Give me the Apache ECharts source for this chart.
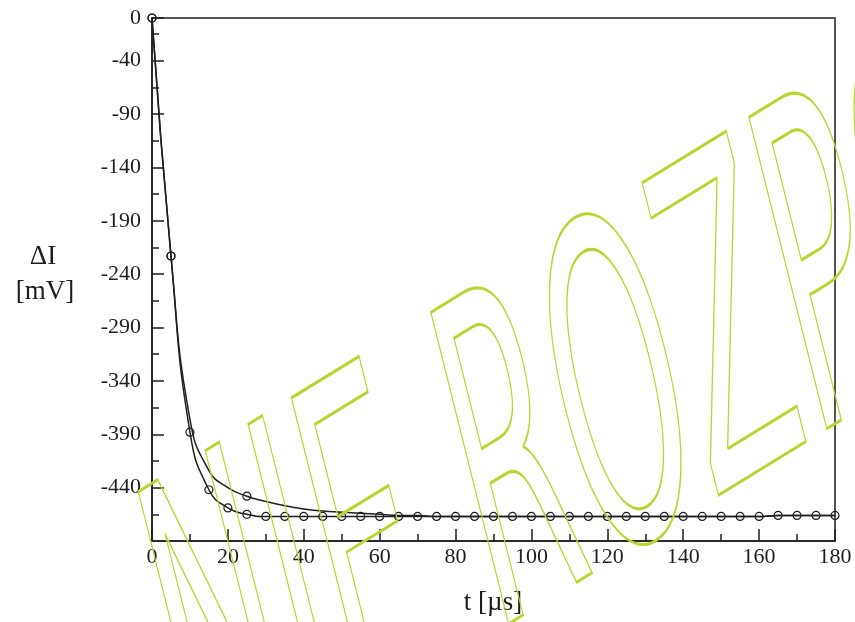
<!DOCTYPE html>
<html lang="en">
<head>
    <meta charset="UTF-8">
    <title>Delta I</title>
    <script type="text/javascript" src="https://cdn.jsdelivr.net/npm/echarts@6.0.0/dist/echarts.min.js"></script>
</head>
<body>
<div id="chart" class="chart"></div>
</body>
<style>
    * {
        padding: 0;
        margin: 0;
    }

    html, body {
        width: 100%;
        height: 100%;
        background-color: white;
    }

    .chart {
        width: 855px;
        height: 622px;
    }
</style>
<script>

    // time in us, one sample every 5 us
    let times = [0, 5, 10, 15, 20, 25, 30, 35, 40, 45, 50, 55, 60, 65, 70, 75, 80, 85, 90,
        95, 100, 105, 110, 115, 120, 125, 130, 135, 140, 145, 150, 155, 160, 165, 170, 175, 180]
    // fast curve, circle on every sample
    let fastCurve = [0, -223, -388, -442, -459, -465, -467, -467, -467, -467, -467, -467, -467,
        -467, -467, -467, -467, -467, -467, -467, -467, -467, -467, -467, -467, -467, -467,
        -467, -467, -467, -467, -467, -467, -466, -466, -466, -466]
    // slow curve, circles only at a few samples
    let slowCurve = [0, -223, -376, -424, -440, -448, -453, -457, -460, -462, -463, -464, -465,
        -466, -466, -467, -467, -467, -467, -467, -467, -467, -467, -467, -467, -467, -467,
        -467, -467, -467, -467, -467, -467, -466, -466, -466, -466]
    let slowMarks = [0, 5, 25]

    let yMajor = [0, -40, -90, -140, -190, -240, -290, -340, -390, -440]
    let yMinor = [-15, -65, -115, -165, -215, -265, -315, -365, -415, -465]

    const ink = '#1e1e1e'
    const serif = '"Liberation Serif", "DejaVu Serif", serif'

    const pairs = function (ys, marks) {
        return times.map((t, i) => {
            let item = {value: [t, ys[i]]}
            if (marks && marks.indexOf(t) < 0) item.symbol = 'none'
            return item
        })
    }

    const lineSeries = function (name, data) {
        return {
            name: name,
            type: 'line',
            data: data,
            smooth: 0.5,
            symbol: 'circle',
            symbolSize: 8,
            lineStyle: {color: ink, width: 1.5},
            itemStyle: {color: 'rgba(0,0,0,0)', borderColor: ink, borderWidth: 1.2},
            emphasis: {disabled: true}
        }
    }

    let chart = echarts.init(document.getElementById('chart'))
    chart.setOption({
        animation: false,
        grid: {
            left: 152, right: 20, top: 18, bottom: 81,
            show: true, borderColor: ink, borderWidth: 1.5
        },
        xAxis: {
            type: 'value',
            min: 0, max: 180, interval: 20,
            axisLine: {show: true, onZero: false, lineStyle: {color: ink, width: 1.5}},
            axisTick: {inside: true, length: 12, lineStyle: {color: ink, width: 1.5}},
            minorTick: {show: true, splitNumber: 2, length: 7, lineStyle: {color: ink, width: 1.5}},
            axisLabel: {color: ink, fontFamily: serif, fontSize: 22, margin: 5},
            splitLine: {show: false}
        },
        yAxis: [{
            type: 'value',
            min: -490, max: 0,
            axisLine: {show: true, onZero: false, lineStyle: {color: ink, width: 1.5}},
            axisTick: {inside: true, length: 12, customValues: yMajor, lineStyle: {color: ink, width: 1.5}},
            axisLabel: {customValues: yMajor, color: ink, fontFamily: serif, fontSize: 22, margin: 11},
            splitLine: {show: false}
        }, {
            type: 'value',
            min: -490, max: 0,
            position: 'left',
            axisLine: {show: false, onZero: false},
            axisTick: {inside: true, length: 7, customValues: yMinor, lineStyle: {color: ink, width: 1.5}},
            axisLabel: {show: false},
            splitLine: {show: false}
        }],
        series: [
            lineSeries('slow', pairs(slowCurve, slowMarks)),
            lineSeries('fast', pairs(fastCurve))
        ],
        graphic: [
            {
                type: 'text', x: 43, y: 257,
                style: {text: 'ΔI', font: '27px ' + serif, fill: ink, align: 'center', verticalAlign: 'middle'}
            },
            {
                type: 'text', x: 45, y: 292,
                style: {text: '[mV]', font: '27px ' + serif, fill: ink, align: 'center', verticalAlign: 'middle'}
            },
            {
                type: 'text', x: 493, y: 603,
                style: {text: 't [µs]', font: '27px ' + serif, fill: ink, align: 'center', verticalAlign: 'middle'}
            },
            {
                type: 'text', x: 174, y: 701, rotation: 0.55, scaleX: 0.41, skewX: -0.305, z: 100,
                style: {
                    text: 'NIE ROZPOWSZECHNIAĆ',
                    font: '420px "DejaVu Sans", sans-serif',
                    fill: 'none', stroke: '#b8d630', lineWidth: 3,
                    align: 'left', verticalAlign: 'middle'
                }
            }
        ]
    })

</script>
</html>
